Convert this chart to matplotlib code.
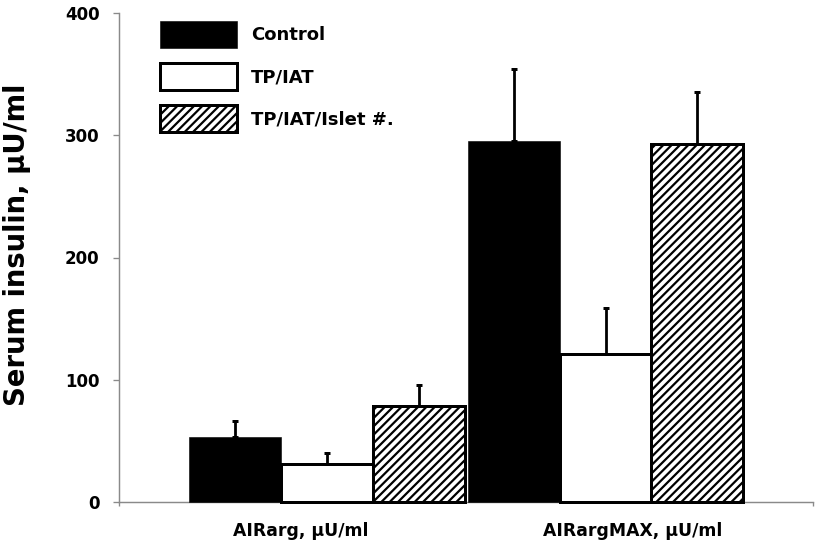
import matplotlib
matplotlib.use("Agg")
import matplotlib.pyplot as plt
import numpy as np

# ---- data ----
categories = ["AIRarg, \u03bcU/ml", "AIRargMAX, \u03bcU/ml"]
series = ["Control", "TP/IAT", "TP/IAT/Islet #."]
control = [53, 295.5]
tp_iat = [31, 121]
tp_iat_islet = [78.5, 293]
control_err = [13.5, 58.5]
tp_iat_err = [9, 37.5]
tp_iat_islet_err = [17.5, 42.5]
yticks = [0, 100, 200, 300, 400]

plt.rcParams['font.family'] = ['DejaVu Sans']
plt.rcParams['font.weight'] = 'bold'
plt.rcParams['hatch.linewidth'] = 1.6

DPI = 100
fig = plt.figure(figsize=(815 / DPI, 542 / DPI), dpi=DPI)
ax = fig.add_axes([119 / 815, 1 - 502 / 542, 694 / 815, 489 / 542])

gray = '#8a8a8a'
groups = np.arange(len(categories))
width = 0.33
offsets = [-0.33, 0.0, 0.33]
vals = [control, tp_iat, tp_iat_islet]
errs = [control_err, tp_iat_err, tp_iat_islet_err]
styles = [dict(color='black', edgecolor='black', linewidth=0.4),
          dict(color='white', edgecolor='black', linewidth=2.16),
          dict(color='white', edgecolor='black', linewidth=2.16, hatch='////')]

handles = []
for v, e, off, st, name in zip(vals, errs, offsets, styles, series):
    x = groups + off
    b = ax.bar(x, v, width=width, label=name, zorder=3, clip_on=False, **st)
    handles.append(b)
    ax.errorbar(x, v, yerr=[np.zeros(len(e)), e], fmt='none', ecolor='black',
                elinewidth=2.0, capsize=2.4, capthick=2.16, zorder=2)

ax.set_ylim(0, 400)
ax.set_xlim(-0.747, 1.745)
ax.set_yticks(yticks)
ax.set_yticklabels([str(t) for t in yticks], fontsize=12, fontweight='bold')
ax.tick_params(axis='y', direction='out', length=4.3, width=0.96, color=gray, pad=9.6)

ax.set_xticks([-0.747, 1.745])
ax.set_xticklabels(['', ''])
ax.tick_params(axis='x', which='major', direction='out', length=2.9, width=0.96, color=gray)
ax.set_xticks([-0.093, 1.099], minor=True)
ax.set_xticklabels(categories, minor=True, fontsize=12.4, fontweight='bold')
ax.tick_params(axis='x', which='minor', length=0, pad=14.4)

for s in ['top', 'right']:
    ax.spines[s].set_visible(False)
for s in ['left', 'bottom']:
    ax.spines[s].set_color(gray)
    ax.spines[s].set_linewidth(1.04)

fig.text(25 / 815, 1 - 245 / 542, "Serum insulin, \u03bcU/ml", rotation=90,
         rotation_mode='anchor', ha='center', va='baseline', fontsize=19.8,
         fontweight='bold')

ax.legend(handles=handles, loc='upper left', bbox_to_anchor=(0.0591, 0.9836),
          frameon=False, borderpad=0, borderaxespad=0,
          handlelength=4.25, handleheight=1.93, labelspacing=0.83,
          handletextpad=0.77, prop={'weight': 'bold', 'size': 13.0})

fig.savefig('out.png', dpi=DPI)
